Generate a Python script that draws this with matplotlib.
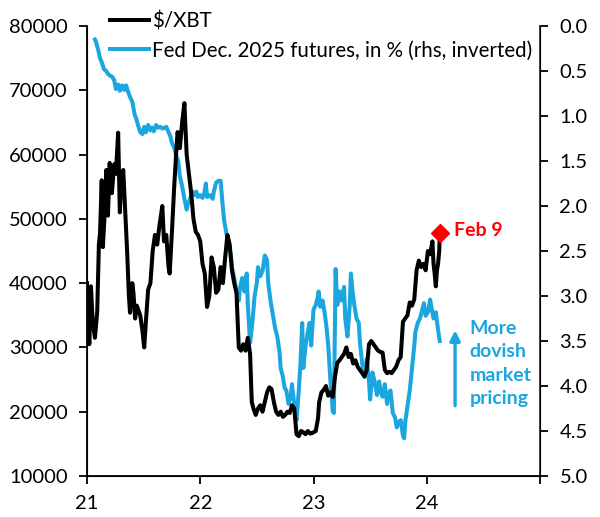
import matplotlib
matplotlib.use("Agg")
import matplotlib.pyplot as plt

plt.rcParams['font.family'] = ['Lato', 'DejaVu Sans']

# Data: $/XBT (lhs)
btc_t = [21.00, 21.01, 21.02, 21.03, 21.035, 21.05, 21.07, 21.09, 21.105, 21.115,
         21.13, 21.14, 21.16, 21.17, 21.185, 21.20, 21.22, 21.24, 21.255, 21.275,
         21.29, 21.30, 21.32, 21.335, 21.355, 21.37, 21.38, 21.40, 21.41, 21.425,
         21.44, 21.47, 21.49, 21.505, 21.52, 21.54, 21.56, 21.58, 21.60, 21.62,
         21.64, 21.665, 21.68, 21.70, 21.72, 21.73, 21.75, 21.77, 21.79, 21.80,
         21.82, 21.84, 21.86, 21.88, 21.90, 21.92, 21.94, 21.96, 21.98, 22.00,
         22.02, 22.04, 22.06, 22.08, 22.10, 22.12, 22.14, 22.16, 22.18, 22.20,
         22.22, 22.24, 22.26, 22.28, 22.30, 22.32, 22.34, 22.36, 22.38, 22.40,
         22.42, 22.44, 22.455, 22.47, 22.49, 22.51, 22.53, 22.55, 22.57, 22.59,
         22.61, 22.63, 22.65, 22.67, 22.69, 22.71, 22.73, 22.75, 22.77, 22.79,
         22.81, 22.83, 22.85, 22.87, 22.89, 22.91, 22.93, 22.95, 22.97, 22.99,
         23.02, 23.04, 23.05, 23.07, 23.09, 23.11, 23.13, 23.15, 23.17, 23.19,
         23.21, 23.23, 23.25, 23.27, 23.29, 23.31, 23.33, 23.35, 23.37, 23.39,
         23.41, 23.43, 23.45, 23.47, 23.49, 23.51, 23.53, 23.55, 23.57, 23.59,
         23.61, 23.63, 23.65, 23.67, 23.69, 23.71, 23.73, 23.75, 23.77, 23.79,
         23.81, 23.83, 23.85, 23.87, 23.89, 23.91, 23.93, 23.95, 23.97, 23.99,
         24.01, 24.03, 24.05, 24.06, 24.07, 24.08, 24.09, 24.10, 24.11, 24.115]
btc = [40000, 37000, 30500, 36000, 39500, 34000, 31500, 35500, 46000, 47800,
       56000, 45600, 52000, 57600, 50500, 58700, 54000, 58500, 57000, 63400,
       51000, 55000, 57600, 52000, 44700, 38000, 35400, 40000, 38500, 34500,
       36500, 35000, 32500, 30000, 34000, 39000, 40000, 45000, 47500, 46000,
       49000, 52000, 46500, 47500, 42500, 41500, 48000, 55000, 61000, 63500,
       61000, 65000, 68000, 60000, 57000, 54000, 50000, 48000, 47500, 46500,
       43000, 41500, 36300, 38000, 44000, 42500, 38500, 39000, 42500, 40000,
       44000, 47500, 46000, 42000, 40000, 38500, 30000, 29500, 30500, 29500,
       31500, 29000, 21500, 20500, 19500, 20500, 21000, 20000, 21500, 23000,
       23800, 23500, 21500, 20000, 19500, 20000, 19200, 19500, 20000, 19800,
       21000, 20500, 16500, 16200, 17000, 16800, 16500, 17000, 16600, 16700,
       17000, 19000, 21500, 23000, 23400, 24000, 22500, 23000, 22300, 25500,
       27600, 28000, 28500, 29000, 30000, 28500, 29000, 27500, 28000, 27000,
       26500, 26000, 25500, 26500, 30500, 31000, 30500, 30000, 29500, 29300,
       29200, 26500, 26000, 26200, 26000, 26500, 27000, 28000, 28500, 34000,
       34500, 35000, 37000, 36500, 37500, 42000, 43500, 42500, 43000, 42000,
       45000, 44500, 46500, 43000, 41500, 39500, 42000, 43000, 45000, 47600]

# Data: Fed Dec. 2025 futures, in % (rhs, inverted)
fed_t = [21.07, 21.08, 21.10, 21.115, 21.13, 21.15, 21.17, 21.185, 21.20, 21.22,
         21.24, 21.255, 21.275, 21.29, 21.31, 21.33, 21.345, 21.36, 21.38, 21.40,
         21.42, 21.435, 21.45, 21.47, 21.49, 21.505, 21.52, 21.54, 21.56, 21.575,
         21.59, 21.61, 21.63, 21.645, 21.67, 21.70, 21.72, 21.735, 21.75, 21.77,
         21.79, 21.805, 21.82, 21.84, 21.86, 21.88, 21.89, 21.91, 21.93, 21.95,
         21.965, 21.98, 22.00, 22.02, 22.035, 22.05, 22.06, 22.09, 22.11, 22.12,
         22.14, 22.16, 22.18, 22.185, 22.195, 22.21, 22.23, 22.25, 22.27, 22.28,
         22.30, 22.32, 22.34, 22.35, 22.37, 22.39, 22.41, 22.42, 22.44, 22.46,
         22.48, 22.50, 22.51, 22.53, 22.55, 22.57, 22.59, 22.60, 22.62, 22.64,
         22.66, 22.68, 22.70, 22.71, 22.73, 22.745, 22.76, 22.78, 22.80, 22.81,
         22.83, 22.85, 22.87, 22.885, 22.90, 22.91, 22.93, 22.95, 22.965, 22.98,
         23.00, 23.02, 23.04, 23.045, 23.06, 23.08, 23.10, 23.115, 23.13, 23.15,
         23.17, 23.18, 23.195, 23.21, 23.23, 23.25, 23.27, 23.28, 23.30, 23.32,
         23.33, 23.345, 23.36, 23.38, 23.40, 23.41, 23.43, 23.45, 23.47, 23.49,
         23.50, 23.52, 23.54, 23.56, 23.58, 23.59, 23.61, 23.63, 23.65, 23.66,
         23.68, 23.70, 23.72, 23.735, 23.75, 23.77, 23.79, 23.80, 23.81, 23.83,
         23.85, 23.87, 23.89, 23.90, 23.92, 23.94, 23.96, 23.975, 23.99, 24.01,
         24.03, 24.045, 24.06, 24.08, 24.10, 24.115]
fed = [0.15, 0.18, 0.27, 0.36, 0.40, 0.48, 0.50, 0.53, 0.55, 0.56,
       0.60, 0.70, 0.65, 0.72, 0.66, 0.71, 0.66, 0.72, 0.79, 0.84,
       0.98, 1.03, 1.10, 1.18, 1.20, 1.12, 1.18, 1.10, 1.16, 1.13,
       1.17, 1.10, 1.13, 1.12, 1.14, 1.12, 1.18, 1.22, 1.30, 1.35,
       1.45, 1.50, 1.67, 1.78, 1.92, 2.04, 1.98, 1.92, 1.84, 1.88,
       1.84, 1.90, 1.88, 1.91, 1.86, 1.75, 1.90, 1.88, 1.92, 1.84,
       1.74, 1.72, 1.72, 1.80, 1.95, 2.15, 2.30, 2.40, 2.55, 2.68,
       2.80, 2.95, 3.05, 2.92, 2.80, 2.95, 2.75, 3.10, 3.52, 3.30,
       3.00, 2.85, 2.68, 2.78, 2.72, 2.55, 2.60, 2.85, 3.05, 3.20,
       3.35, 3.45, 3.62, 3.80, 3.90, 4.02, 4.05, 4.20, 4.10, 3.98,
       4.20, 4.38, 4.05, 3.75, 3.30, 3.80, 3.55, 3.40, 3.30, 3.55,
       3.15, 3.10, 3.00, 2.95, 3.12, 3.05, 3.20, 3.35, 3.55, 3.95,
       4.28, 4.30, 2.70, 3.10, 2.95, 3.05, 2.90, 3.25, 3.45, 3.10,
       2.75, 2.95, 3.10, 3.25, 3.30, 3.52, 3.75, 3.90, 3.70, 3.95,
       4.15, 3.85, 3.95, 4.10, 3.95, 4.05, 4.12, 3.98, 4.20, 4.10,
       4.05, 4.30, 4.35, 4.46, 4.40, 4.38, 4.55, 4.58, 4.40, 4.22,
       4.05, 3.80, 3.55, 3.40, 3.30, 3.25, 3.15, 3.08, 3.22, 3.18,
       3.04, 3.15, 3.25, 3.18, 3.38, 3.50]

last_t = 24.115
last_btc = 47800

x_ticks = [21, 22, 23, 24, 25]
x_labels = ['21', '22', '23', '24', '']
rhs_ticks = [0.0, 0.5, 1.0, 1.5, 2.0, 2.5, 3.0, 3.5, 4.0, 4.5, 5.0]

blue = '#1BA6DF'

fig = plt.figure(figsize=(6, 5.17), dpi=100)
ax = fig.add_axes([0.145, 0.0793, 0.755, 0.8704])
ax2 = ax.twinx()

l1, = ax.plot(btc_t, btc, color='black', lw=2.9, label='$/XBT', zorder=2)
l2, = ax2.plot(fed_t, fed, color=blue, lw=2.9, label='Fed Dec. 2025 futures, in % (rhs, inverted)')
ax.plot([last_t], [last_btc], marker='D', color='red', ms=9, zorder=5, clip_on=False)
ax.text(24.24, last_btc + 400, 'Feb 9', color='red', fontsize=14, fontweight='bold',
        va='center', ha='left')

ax.set_xlim(21, 25)
ax.set_ylim(10000, 80000)
ax.set_yticks(range(10000, 80001, 10000))
ax.set_xticks(x_ticks)
ax.set_xticklabels(x_labels)
ax2.set_ylim(5.0, 0.0)
ax2.set_yticks(rhs_ticks)
ax2.set_yticklabels([f'{v:.1f}' for v in rhs_ticks])

for a in (ax, ax2):
    a.spines['top'].set_visible(False)
    a.tick_params(labelsize=14.5, length=6, width=1.3, pad=8)
ax.spines['left'].set_linewidth(1.3)
ax.spines['bottom'].set_linewidth(1.3)
ax2.spines['right'].set_linewidth(1.3)
ax2.spines['right'].set_color('#333333')

ax2.set_zorder(ax.get_zorder() - 1)
ax.patch.set_visible(False)

# annotation arrow
ax2.annotate('', xy=(24.25, 3.35), xytext=(24.25, 4.25),
             arrowprops=dict(arrowstyle='-|>', color=blue, lw=2.4, mutation_scale=15))
ax2.text(24.38, 3.75, 'More\ndovish\nmarket\npricing', color=blue, fontsize=14,
         fontweight='bold', va='center', ha='left', linespacing=1.45)

fig.legend(handles=[l1, l2], loc='upper left', bbox_to_anchor=(0.183, 0.978),
           frameon=False, fontsize=14.8, handlelength=1.9, handletextpad=0.15,
           labelspacing=0.45, borderaxespad=0, borderpad=0)

fig.savefig('out.png', dpi=100)
